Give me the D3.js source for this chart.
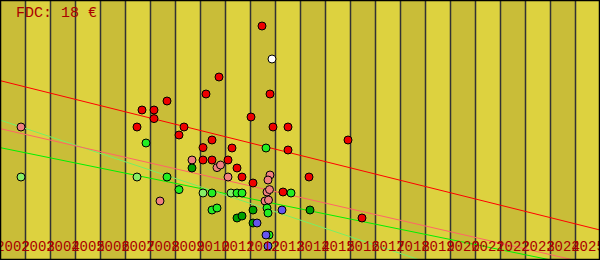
<!DOCTYPE html>
<html lang="en">
<head>
    <meta charset="UTF-8">
    <script src="https://d3js.org/d3.v7.min.js"></script>
    <style>
        body { margin: 0; background: #fff; }
    </style>
</head>
<body>
    <div id="chart"></div>
    <script>
        var title = "FDC: 18 €";

        // one band per year, 2002 .. 2025
        var years = d3.range(2002, 2026);

        // [year, value]
        var redPoints = [
            [2012.48, 117], [2010.76, 91.5], [2008.68, 79.5], [2010.24, 83], [2012.8, 83],
            [2007.68, 75], [2008.16, 75], [2008.16, 70.7], [2007.48, 66.5], [2009.36, 66.5],
            [2012.92, 66.5], [2013.52, 66.5], [2012.04, 71.5], [2009.16, 62.5], [2010.48, 60],
            [2015.92, 60], [2010.12, 56.2], [2011.28, 56], [2013.52, 55], [2010.12, 50],
            [2010.48, 50], [2011.12, 50], [2011.48, 46], [2011.68, 41.5], [2012.12, 38.5],
            [2014.36, 41.5], [2013.32, 34], [2016.48, 21]
        ];
        var whitePoints = [[2012.88, 100.5]];
        var pinkPoints = [
            [2002.84, 66.5], [2009.68, 50], [2010.68, 46.2], [2010.82, 47.5], [2011.12, 41.5],
            [2012.8, 42.5], [2012.72, 40], [2012.68, 34], [2012.78, 35.2], [2012.6, 29.5],
            [2012.74, 30], [2008.4, 29.5]
        ];
        var darkGreenPoints = [
            [2009.68, 46], [2012.12, 25], [2012.12, 18.5], [2014.4, 25], [2011.48, 21], [2011.68, 22]
        ];
        var greenPoints = [
            [2007.84, 58.5], [2012.64, 56], [2009.16, 35.2], [2010.48, 33.5], [2011.48, 33.5],
            [2011.68, 33.5], [2013.64, 33.5], [2010.48, 25], [2010.68, 26], [2012.68, 26],
            [2012.72, 23.5], [2012.76, 12.5], [2008.68, 41.5]
        ];
        var lightGreenPoints = [
            [2002.84, 41.5], [2007.48, 41.5], [2010.12, 33.5], [2011.24, 33.5]
        ];
        var bluePoints = [
            [2013.28, 25], [2012.28, 18.5], [2012.64, 12.5], [2012.72, 7]
        ];

        // trend lines: value at start of 2002 and at end of 2025
        var redTrend = [89.7, 15];
        var pinkTrend = [65.7, -3];
        var lightGreenTrend = [70, -30];
        var greenTrend = [56.2, -5];

        var width = 600,
            height = 260;

        var svg = d3.select("#chart")
            .append("svg")
            .attr("width", width)
            .attr("height", height);

        var x = d3.scaleLinear().domain([2002, 2026]).range([0, width]);
        var y = d3.scaleLinear().domain([0, 130]).range([height, 0]);

        // background bands
        svg.selectAll("rect.band")
            .data(years)
            .enter()
            .append("rect")
            .attr("class", "band")
            .attr("x", function (d) { return x(d); })
            .attr("y", 0)
            .attr("width", function (d) { return x(d + 1) - x(d); })
            .attr("height", height)
            .style("fill", function (d, i) { return i % 2 == 0 ? "#c9bd38" : "#ddd23f"; });

        svg.selectAll("line.sep")
            .data(years.slice(1))
            .enter()
            .append("line")
            .attr("class", "sep")
            .attr("x1", function (d) { return Math.round(x(d)) + 0.5; })
            .attr("x2", function (d) { return Math.round(x(d)) + 0.5; })
            .attr("y1", 0)
            .attr("y2", height)
            .style("stroke", "#333333")
            .style("stroke-width", 1.5);

        // trend lines
        var trends = [
            { v: greenTrend, c: "#00f000" },
            { v: lightGreenTrend, c: "#77ee66" },
            { v: pinkTrend, c: "#ff6666" },
            { v: redTrend, c: "#ff0000" }
        ];
        svg.selectAll("line.trend")
            .data(trends)
            .enter()
            .append("line")
            .attr("class", "trend")
            .attr("x1", x(2002))
            .attr("x2", x(2026))
            .attr("y1", function (d) { return y(d.v[0]); })
            .attr("y2", function (d) { return y(d.v[1]); })
            .style("stroke", function (d) { return d.c; })
            .style("stroke-width", 1);

        // points
        var groups = [
            { pts: lightGreenPoints, c: "#88ee66" },
            { pts: pinkPoints, c: "#f08080" },
            { pts: darkGreenPoints, c: "#00a000" },
            { pts: greenPoints, c: "#22ee22" },
            { pts: bluePoints, c: "#6655ee" },
            { pts: redPoints, c: "#ee0000" },
            { pts: whitePoints, c: "#ffffff" }
        ];
        groups.forEach(function (g) {
            svg.append("g")
                .selectAll("circle")
                .data(g.pts)
                .enter()
                .append("circle")
                .attr("cx", function (d) { return x(d[0]); })
                .attr("cy", function (d) { return y(d[1]); })
                .attr("r", 4)
                .style("fill", g.c)
                .style("stroke", "#000")
                .style("stroke-width", 1);
        });

        // year labels, centred in each band
        var axis = d3.axisBottom(x)
            .tickValues(years.map(function (d) { return d + 0.5; }))
            .tickFormat(function (d) { return String(Math.floor(d)); })
            .tickSize(0)
            .tickPadding(0);

        var ax = svg.append("g")
            .attr("transform", "translate(0," + 240 + ")")
            .call(axis);
        ax.select(".domain").remove();
        ax.selectAll("text")
            .attr("y", 0)
            .attr("dy", "0.75em")
            .style("font-family", "Liberation Mono")
            .style("font-size", "14px")
            .style("fill", "#aa0000");

        svg.append("text")
            .attr("x", 16)
            .attr("y", 17)
            .style("font-family", "Liberation Mono")
            .style("font-size", "15px")
            .style("fill", "#aa0000")
            .text(title);

        svg.append("rect")
            .attr("x", 0.5)
            .attr("y", 0.5)
            .attr("width", width - 1)
            .attr("height", height - 1)
            .style("fill", "none")
            .style("stroke", "#000")
            .style("stroke-width", 1.5);
    </script>
</body>
</html>
